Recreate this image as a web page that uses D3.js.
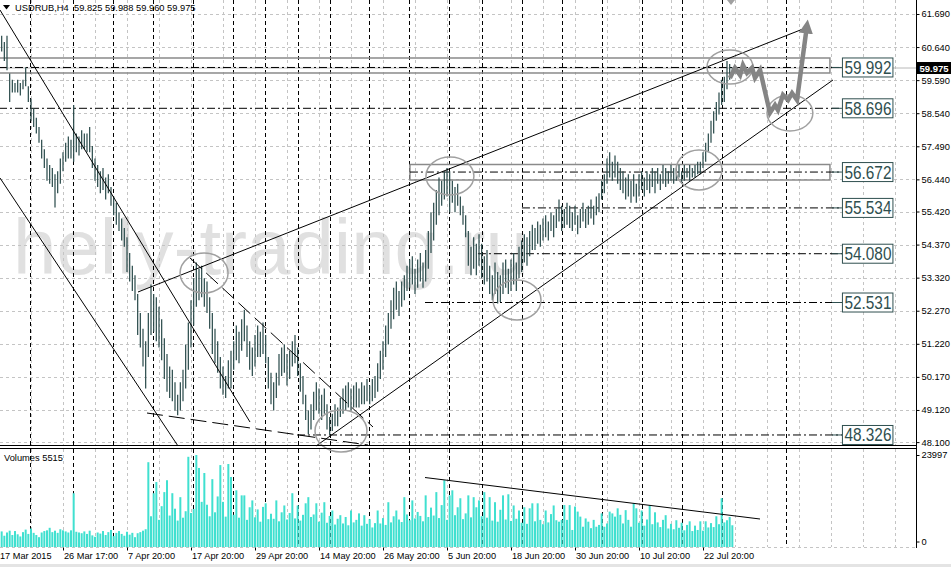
<!DOCTYPE html>
<html><head><meta charset="utf-8">
<script src="https://cdn.jsdelivr.net/npm/d3@7"></script>
<style>
body{margin:0;background:#fff;}
svg{display:block;}
text{font-family:"Liberation Sans",Arial,sans-serif;}
</style>
</head><body>
<svg id="c" width="951" height="567"></svg>
<script>
// ---- DATA (3 H4 bars per trading day) ----
const symbolLabel = "USDRUB,H4";
const quoteLabel = "59.825 59.988 59.960 59.975";
const volumeLabel = "Volumes 5515";
const lastPrice = 59.975;

const highs = [
60.9,61.0,60.8, 61.0,59.8,59.6, 59.5,59.6,59.5, 59.6,60.0,59.4, 59.0,58.7,58.4,
58.1,57.7,57.4, 57.1,56.9,56.8, 56.6,56.7,57.1, 57.3,57.6,57.8, 57.7,58.8,57.9,
57.8,58.0,57.9, 57.9,58.1,57.5, 57.1,56.9,56.7, 56.8,56.5,56.6, 56.2,55.9,55.7,
55.4,55.2,54.9, 54.6,54.1,53.7, 53.4,52.8,52.2, 51.7,51.3,52.2, 53.1,52.8,52.7,
52.4,52.0,51.4, 50.9,50.5,50.4, 50.0,49.6,50.0, 50.4,51.2,51.9, 52.6,53.3,53.8,
53.6,53.7,53.3, 53.2,52.7,52.2, 51.7,51.3,50.8, 50.5,50.2,50.7, 51.0,51.3,51.8,
51.6,52.0,52.3, 51.8,51.3,51.1, 51.5,51.8,51.6, 51.9,51.5,50.8, 50.3,50.0,50.3,
50.9,51.1,51.2, 50.9,51.0,51.3, 51.5,51.1,50.6, 50.2,49.6,49.1, 49.3,49.7,50.0,
49.8,49.6,49.8, 49.3,48.9,49.0, 49.3,49.2,49.5, 49.8,49.9,50.0, 49.8,49.9,50.0,
49.8,50.0,49.9, 50.1,49.9,50.1, 50.2,50.6,51.0, 51.3,51.8,52.2, 52.6,53.0,53.2,
52.9,53.2,53.4, 53.7,53.9,54.0, 53.6,53.9,54.1, 53.8,54.2,54.8, 55.4,55.7,56.1,
56.5,56.4,56.7, 56.8,56.7,56.4, 56.2,56.3,55.9, 55.6,55.3,54.8, 54.3,54.6,54.4,
54.7,54.4,54.0, 54.2,53.7,53.4, 53.8,53.5,53.4, 53.8,53.9,53.6, 53.9,54.1,53.8,
54.3,54.5,54.7, 54.6,54.8,55.0, 54.9,55.1,55.0, 55.2,55.3,55.1, 55.4,55.3,55.5,
55.8,55.6,55.5, 55.7,55.6,55.4, 55.6,55.3,55.5, 55.7,55.5,55.6, 55.8,55.6,55.9,
56.0,56.4,56.6, 57.1,57.3,57.0, 57.2,57.0,56.8, 56.7,56.5,56.6, 56.4,56.6,56.3,
56.6,56.7,56.5, 56.7,56.6,56.8, 56.7,56.8,56.6, 56.9,56.8,56.7, 56.9,56.8,56.8,
56.9,56.7,56.9, 56.8,56.9,56.8, 56.9,57.0,57.0, 57.3,57.6,57.9, 58.3,58.6,58.9,
59.2,59.6,59.7, 60.2,60.1,59.99];

const lows = [
60.3,60.5,60.2, 59.9,58.9,59.2, 59.2,59.2,59.1, 59.3,59.4,58.9, 58.3,58.1,57.9,
57.6,57.1,56.8, 56.4,56.3,56.2, 55.55,56.0,56.3, 56.7,57.0,57.1, 57.1,57.0,57.3,
57.2,57.4,57.4, 57.3,57.3,56.8, 56.4,56.2,56.0, 56.1,55.8,56.0, 55.6,55.3,55.0,
54.8,54.5,54.3, 53.5,53.2,52.9, 52.6,51.5,51.1, 50.5,49.8,50.8, 51.5,51.6,51.3,
51.1,50.7,50.1, 49.7,49.5,49.4, 49.1,48.95,49.1, 49.4,49.8,50.4, 51.1,51.8,52.4,
52.6,52.7,52.4, 52.2,51.7,50.9, 50.6,50.3,49.8, 49.6,49.5,49.8, 49.8,50.4,50.7,
50.6,51.0,51.3, 50.8,50.4,50.2, 50.5,50.8,50.8, 50.9,50.6,49.8, 49.3,49.1,49.5,
49.9,50.2,50.3, 49.9,50.1,50.5, 50.6,50.2,49.7, 49.3,48.8,48.35, 48.5,48.8,49.1,
49.0,48.8,49.0, 48.5,48.33,48.45, 48.6,48.6,48.9, 49.0,49.1,49.2, 49.1,49.2,49.2,
49.2,49.3,49.3, 49.4,49.3,49.4, 49.5,49.7,50.1, 50.4,50.8,51.2, 51.7,52.0,52.3,
52.1,52.4,52.6, 52.9,53.0,53.1, 52.8,53.0,53.2, 53.0,53.2,53.6, 54.1,54.5,55.0,
55.3,55.6,55.8, 55.9,55.4,55.7, 55.4,55.6,55.3, 55.0,54.6,53.7, 53.4,53.6,53.4,
53.7,53.3,53.1, 53.2,52.8,52.6, 52.8,52.5,52.55, 52.8,53.0,52.8, 52.9,53.1,52.9,
53.3,53.5,53.8, 53.7,54.0,54.2, 54.2,54.4,54.3, 54.5,54.6,54.5, 54.8,54.6,54.9,
55.1,54.8,54.9, 55.0,54.9,54.8, 55.0,54.7,54.9, 55.1,54.9,55.0, 55.2,55.0,55.3,
55.4,55.8,56.0, 56.3,56.5,56.4, 56.5,56.3,56.1, 56.0,55.8,55.9, 55.7,55.9,55.7,
55.9,56.1,55.9, 56.1,56.0,56.2, 56.0,56.3,56.1, 56.3,56.2,56.3, 56.4,56.3,56.4,
56.5,56.3,56.4, 56.5,56.4,56.5, 56.5,56.6,56.6, 56.8,57.0,57.3, 57.6,57.9,58.3,
58.5,58.8,58.9, 59.3,59.6,59.82];

// tick volumes, thousands
const volumesK = [
2.0,2.8,1.6, 2.5,3.0,1.8, 2.9,2.0,1.4, 2.6,3.3,2.1, 3.6,2.4,1.8,
1.2,2.5,2.9, 3.1,3.8,2.6, 3.0,2.4,3.4, 3.1,2.8,2.5, 3.1,13.4,2.7,
2.5,2.3,2.8, 2.1,3.0,1.7, 1.3,2.5,2.2, 2.9,1.8,2.6, 3.2,1.5,2.4,
2.9,2.1,1.6, 2.7,1.9,2.4, 1.2,2.3,2.6, 3.0,3.4,22.0, 7.0,13.4,16.5,
6.0,9.8,13.7, 17.0,7.2,13.4, 9.1,5.8,12.3, 6.6,8.4,23.5, 7.9,9.0,24.0,
20.4,11.0,19.0, 10.2,7.0,17.3, 8.1,12.5,21.2, 11.0,6.9,21.5, 17.9,7.4,14.2,
6.6,12.8,12.8, 6.0,9.5,11.4, 6.7,8.9,5.5, 9.6,10.6,6.2, 7.7,6.3,11.4,
5.6,8.1,10.0, 6.1,7.9,13.4, 6.4,10.0,5.8, 7.4,10.6,12.3, 6.8,7.5,10.6,
5.5,8.0,10.9, 5.2,7.1,8.6, 4.7,6.3,7.3, 5.0,6.8,4.5, 8.6,5.3,6.0,
7.8,4.4,7.3, 4.9,6.2,3.9, 5.1,8.6,5.0, 6.5,4.6,10.9, 5.3,7.0,8.6,
6.1,5.4,12.3, 7.5,5.9,11.4, 6.4,8.2,7.1, 5.6,12.8,6.8, 9.4,7.2,13.7,
6.5,10.1,17.0, 6.0,12.8,14.2, 7.3,9.5,12.0, 6.2,7.8,12.8, 6.7,12.3,9.5,
11.4,7.0,13.7, 6.6,12.3,5.8, 10.9,5.5,8.8, 12.8,6.1,13.1, 5.7,10.0,6.3,
8.6,5.2,9.5, 4.9,9.2,10.6, 5.6,10.6,6.0, 4.8,8.6,5.3, 7.6,10.0,5.9,
5.5,6.0,10.1, 6.0,10.1,3.2, 9.7,8.3,6.9, 4.1,6.4,5.5, 3.7,6.0,4.1,
4.6,7.8,4.1, 5.0,8.3,7.8, 6.9,9.2,7.4, 5.0,8.7,6.0, 4.1,10.6,9.2,
5.2,8.6,4.4, 6.1,10.0,4.8, 8.1,5.3,4.0, 6.0,7.3,3.6, 4.9,3.4,5.9,
3.8,5.2,3.1, 4.6,5.6,2.9, 4.4,3.2,5.6, 3.0,5.6,3.9, 5.1,4.0,7.0,
4.8,12.0,5.3, 5.9,6.8,4.5];

const priceTicks = [61.690, 60.640, 59.590, 58.540, 57.490, 56.440, 55.420, 54.370, 53.320, 52.270, 51.220, 50.170, 49.120, 48.100];
const volumeTicks = [0, 23997];
const dateLabels = ["17 Mar 2015","26 Mar 17:00","7 Apr 20:00","17 Apr 20:00","29 Apr 20:00","14 May 20:00","26 May 20:00","5 Jun 20:00","18 Jun 20:00","30 Jun 20:00","10 Jul 20:00","22 Jul 20:00"];
const dateLabelBars = [0,24,48,72,96,120,144,168,192,216,240,264];
const weekSeparatorBars = [11.6,27.7,42.7,57.7,72.7,87.7,99.7,112.1,124.1,138.7,153.7,168.7,181.1,196.1,211.1,226.1,241.1,256.1,271.1,295.1];

// horizontal levels drawn on the chart
const levelPrices = [59.992, 58.696, 56.672, 55.534, 54.080, 52.531, 48.326];
const levelStartBars = [0, 0, 154.1, 196.1, 179.6, 159.75, 111.75];
const levelLabelBar = 316.1;

// zones [barFrom, barTo, priceTop, priceBottom]
const zones = [[0, 311.6, 60.293, 59.817], [154.1, 311.6, 56.912, 56.420]];

// solid trend lines [bar1, price1, bar2, price2]
const trendLines = [
  [0.375, 61.817, 94.125, 48.737],
  [0.375, 56.484, 67.125, 47.976],
  [52.125, 52.865, 303.375, 61.277],
  [118.875, 47.976, 312.75, 59.595]
];
// dashed wedge lines
const dashedLines = [
  [71.625, 53.944, 140.25, 48.579],
  [55.5, 49.023, 138.375, 48.007]
];
// volume trend line [bar1, vol1, bar2, vol2]
const volumeLine = [159.75, 17750, 285.375, 6240];

// ellipses [centerBar, centerPrice, radiusBars, radiusPrice]
const ellipses = [
  [274.1, 60.007, 8.6, 0.54],
  [296.6, 58.547, 8.6, 0.571],
  [262.5, 56.738, 8.6, 0.635],
  [169.1, 56.547, 9.0, 0.603],
  [194.25, 52.610, 9.0, 0.635],
  [76.9, 53.468, 9.0, 0.635],
  [128.25, 48.452, 9.75, 0.667]
];

// forecast path [bar, price]
const forecastPath = [
  [274.1,59.66],[276.0,59.98],[277.9,59.75],[279.0,60.07],[280.5,59.82],[282.4,59.98],
  [283.5,59.66],[285.4,59.91],[289.1,58.55],[291.0,58.80],[292.1,58.64],[294.0,59.12],
  [295.9,58.96],[297.4,59.18],[299.25,58.96],[302.8,61.2]
];

// ---- DRAWING ----
const svg = d3.select("#c");
const W = 951, H = 567;
const plotRight = 916;
const mainTop = 0, mainBottom = 446;
const volTop = 449, volBottom = 547;

const x = d3.scaleLinear().domain([0, 343.5]).range([-1, 915]);
const y = d3.scaleLinear().domain([47.976, 62.134]).range([mainBottom, mainTop]);
const yv = d3.scaleLinear().domain([0, 23997]).range([541.5, 455]);

svg.append("rect").attr("width", W).attr("height", H).attr("fill", "#fff");

// watermark
svg.append("text").attr("x", 13).attr("y", 274)
  .attr("font-size", 78).attr("fill", "#e0e0e0")
  .text("helly-trading.ru");

// grid horizontal
const grid = svg.append("g").attr("stroke", "#c4c4c4").attr("stroke-width", 1).attr("stroke-dasharray", "3,3");
priceTicks.forEach(p => {
  const yy = Math.round(y(p)) + 0.5;
  grid.append("line").attr("x1", 0).attr("x2", plotRight).attr("y1", yy).attr("y2", yy);
});
grid.append("line").attr("x1", 0).attr("x2", plotRight).attr("y1", volBottom + 0.5).attr("y2", volBottom + 0.5);
// grid vertical every 12 bars
for (let b = 12; b <= 336; b += 12) {
  const xx = Math.round(x(b)) + 0.5;
  grid.append("line").attr("x1", xx).attr("x2", xx).attr("y1", mainTop).attr("y2", mainBottom);
  grid.append("line").attr("x1", xx).attr("x2", xx).attr("y1", volTop).attr("y2", volBottom);
}

// weekly separators
const sep = svg.append("g").attr("stroke", "#000").attr("stroke-width", 1).attr("stroke-dasharray", "4,3");
weekSeparatorBars.forEach(b => {
  const xx = Math.round(x(b)) + 0.5;
  sep.append("line").attr("x1", xx).attr("x2", xx).attr("y1", mainTop).attr("y2", mainBottom);
  sep.append("line").attr("x1", xx).attr("x2", xx).attr("y1", volTop).attr("y2", volBottom);
});

// bid line
svg.append("line").attr("x1", 0).attr("x2", plotRight)
  .attr("y1", y(lastPrice)).attr("y2", y(lastPrice))
  .attr("stroke", "#b8b8b8").attr("stroke-width", 1);

// zones
zones.forEach(z => {
  svg.append("rect")
    .attr("x", x(z[0])).attr("y", y(z[2]))
    .attr("width", x(z[1]) - x(z[0])).attr("height", y(z[3]) - y(z[2]))
    .attr("fill", "none").attr("stroke", "#8a8a8a").attr("stroke-width", 1.5);
});

// level lines
const labelX = x(levelLabelBar);
levelPrices.forEach((p, i) => {
  svg.append("line").attr("x1", x(levelStartBars[i])).attr("x2", labelX)
    .attr("y1", y(p)).attr("y2", y(p))
    .attr("stroke", "#000").attr("stroke-width", 1).attr("stroke-dasharray", "8,3,2,3");
});

// price bars
const bars = svg.append("g").attr("stroke", "#2f4f4f").attr("stroke-width", 1.25);
highs.forEach((h, i) => {
  bars.append("line").attr("x1", x(i)).attr("x2", x(i))
    .attr("y1", y(h)).attr("y2", y(lows[i]));
});

// volume bars
const vg = svg.append("g").attr("fill", "#40e0d0");
volumesK.forEach((v, i) => {
  const top = yv(v * 1000);
  vg.append("rect").attr("x", x(i) - 1).attr("width", 2)
    .attr("y", top).attr("height", volBottom - top);
});

// trend lines
trendLines.forEach(t => {
  svg.append("line").attr("x1", x(t[0])).attr("y1", y(t[1])).attr("x2", x(t[2])).attr("y2", y(t[3]))
    .attr("stroke", "#000").attr("stroke-width", 1);
});
dashedLines.forEach(t => {
  svg.append("line").attr("x1", x(t[0])).attr("y1", y(t[1])).attr("x2", x(t[2])).attr("y2", y(t[3]))
    .attr("stroke", "#000").attr("stroke-width", 1).attr("stroke-dasharray", "16,6");
});
svg.append("line").attr("x1", x(volumeLine[0])).attr("y1", yv(volumeLine[1]))
  .attr("x2", x(volumeLine[2])).attr("y2", yv(volumeLine[3]))
  .attr("stroke", "#000").attr("stroke-width", 1);

// ellipses
ellipses.forEach(e => {
  svg.append("ellipse").attr("cx", x(e[0])).attr("cy", y(e[1]))
    .attr("rx", x(e[2]) - x(0)).attr("ry", y(e[1] - e[3]) - y(e[1]))
    .attr("fill", "none").attr("stroke", "#a0a0a0").attr("stroke-width", 1.5);
});

// forecast arrow
const defs = svg.append("defs");
defs.append("marker").attr("id", "ah").attr("markerUnits", "userSpaceOnUse")
  .attr("markerWidth", 16).attr("markerHeight", 16).attr("refX", 4).attr("refY", 8)
  .attr("orient", "auto")
  .append("path").attr("d", "M0,1 L14,8 L0,15 Z").attr("fill", "#858585");
svg.append("path")
  .attr("d", d3.line().x(d => x(d[0])).y(d => y(d[1]))(forecastPath))
  .attr("fill", "none").attr("stroke", "#858585").attr("stroke-width", 4.5)
  .attr("stroke-linejoin", "miter").attr("marker-end", "url(#ah)");
// chart shift marker at top
svg.append("path").attr("d", `M${x(274.5)-4},0 L${x(274.5)+4},0 L${x(274.5)},5 Z`).attr("fill", "#a0a0a0");

// level labels
levelPrices.forEach(p => {
  const g = svg.append("g").attr("transform", `translate(${labelX},${y(p)})`);
  g.append("line").attr("x1", -10).attr("x2", 0).attr("y1", 0).attr("y2", 0).attr("stroke", "#2f4f4f");
  g.append("rect").attr("x", 0.5).attr("y", -9.5).attr("width", 50.5).attr("height", 19)
    .attr("fill", "#fff").attr("stroke", "#2f4f4f").attr("stroke-width", 1);
  g.append("text").attr("x", 26).attr("y", 6.5).attr("text-anchor", "middle")
    .attr("font-size", 17.5).attr("fill", "#2f4f4f")
    .attr("textLength", 47).attr("lengthAdjust", "spacingAndGlyphs")
    .text(d3.format(".3f")(p));
});

// panel frames
const frame = svg.append("g").attr("stroke", "#000").attr("stroke-width", 1);
frame.append("line").attr("x1", 0).attr("x2", plotRight).attr("y1", 445.5).attr("y2", 445.5);
frame.append("line").attr("x1", 0).attr("x2", plotRight).attr("y1", 448.5).attr("y2", 448.5);
frame.append("line").attr("x1", plotRight + 0.5).attr("x2", plotRight + 0.5).attr("y1", 0).attr("y2", 548);

// price axis
const pa = svg.append("g").attr("transform", `translate(${plotRight + 0.5},0)`)
  .call(d3.axisRight(y).tickValues(priceTicks).tickFormat(d3.format(".3f")).tickSize(3).tickPadding(2));
pa.select(".domain").remove();
pa.selectAll("text").attr("font-family", "Liberation Sans").attr("font-size", 9.3).attr("fill", "#000");
pa.selectAll("line").attr("stroke", "#000");

// volume axis
const va = svg.append("g").attr("transform", `translate(${plotRight + 0.5},0)`)
  .call(d3.axisRight(yv).tickValues(volumeTicks).tickFormat(d3.format("d")).tickSize(3).tickPadding(2));
va.select(".domain").remove();
va.selectAll("text").attr("font-family", "Liberation Sans").attr("font-size", 9.3).attr("fill", "#000");

// last price tag
svg.append("rect").attr("x", plotRight + 1).attr("y", y(lastPrice) - 6).attr("width", 34).attr("height", 12).attr("fill", "#000");
svg.append("text").attr("x", plotRight + 3.5).attr("y", y(lastPrice) + 3.5)
  .attr("font-size", 9.5).attr("font-weight", "bold").attr("fill", "#fff").text(d3.format(".3f")(lastPrice));

// time axis
const ta = svg.append("g").attr("transform", `translate(0,${volBottom + 0.5})`)
  .call(d3.axisBottom(x).tickValues(dateLabelBars).tickFormat((d, i) => dateLabels[i]).tickSize(3).tickPadding(2));
ta.select(".domain").remove();
ta.selectAll("line").attr("stroke", "#000");
ta.selectAll("text").attr("text-anchor", "start").attr("dx", "0.5")
  .attr("font-family", "Liberation Sans").attr("font-size", 9.2).attr("fill", "#000");

// bottom window edge
svg.append("rect").attr("x", 0).attr("y", 564).attr("width", W).attr("height", 3).attr("fill", "#e4e4e4");

// header
svg.append("path").attr("d", "M3,5 L10,5 L6.5,9.5 Z").attr("fill", "#000");
svg.append("text").attr("x", 15).attr("y", 10.5).attr("font-size", 9.3).attr("fill", "#000").text(symbolLabel);
svg.append("text").attr("x", 74).attr("y", 10.5).attr("font-size", 9.3).attr("fill", "#000").text(quoteLabel);
svg.append("text").attr("x", 4).attr("y", 460.5).attr("font-size", 9.3).attr("fill", "#000").text(volumeLabel);
</script>
</body></html>
